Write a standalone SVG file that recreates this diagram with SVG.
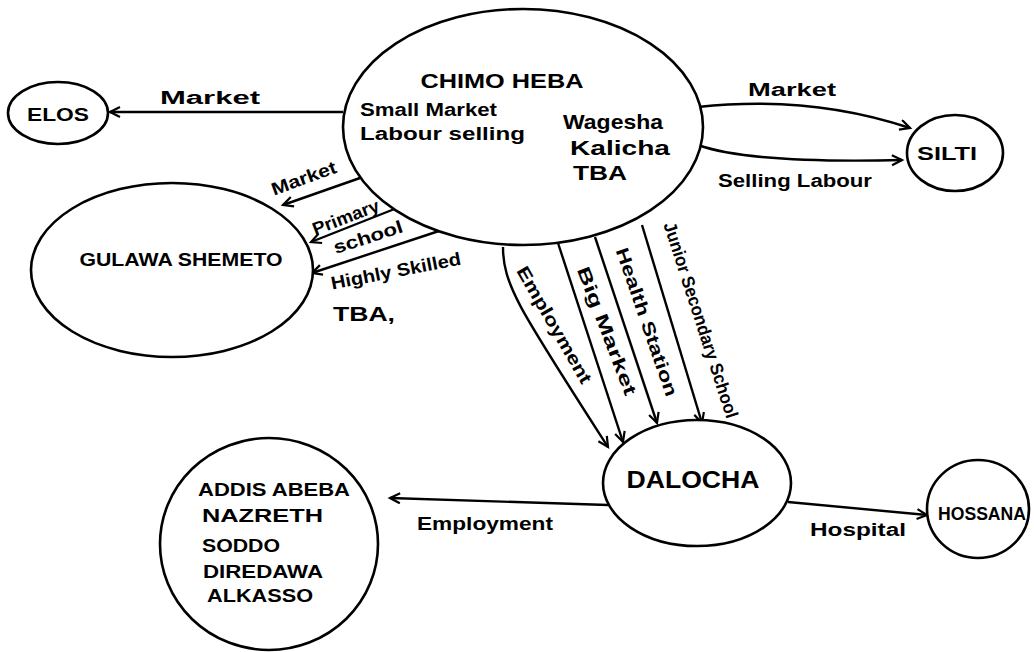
<svg xmlns="http://www.w3.org/2000/svg" width="1034" height="652" viewBox="0 0 1034 652">
<style>
.n{fill:#fff;stroke:#000;stroke-width:2.6}
.c{fill:none;stroke:#000;stroke-width:2.4;marker-end:url(#arr)}
text{font-family:"Liberation Sans","DejaVu Sans",sans-serif;fill:#000;font-size:18px;font-weight:bold}
.big{font-size:21px}
</style>
<defs>
<marker id="arr" markerUnits="userSpaceOnUse" markerWidth="14" markerHeight="14" refX="11" refY="6" orient="auto">
<path d="M1,1 L11,6 L1,11" fill="none" stroke="#000" stroke-width="2.2"/>
</marker>
</defs>
<rect width="1034" height="652" fill="#fff"/>
<g id="connectors">
<line class="c" x1="343" y1="112" x2="110" y2="112"/>
<line class="c" x1="360" y1="178" x2="283" y2="205"/>
<line class="c" x1="397" y1="208" x2="311" y2="242"/>
<line class="c" x1="442" y1="230" x2="312" y2="273"/>
<path class="c" d="M698,107 C780,98 850,108 910,128"/>
<path class="c" d="M698,145 C740,160 820,162 902,160"/>
<path class="c" d="M503,247 C503,285 520,310 608,447"/>
<line class="c" x1="558" y1="243" x2="623" y2="442"/>
<line class="c" x1="595" y1="237" x2="657" y2="423"/>
<line class="c" x1="642" y1="225" x2="702" y2="423"/>
<line class="c" x1="608" y1="505" x2="390" y2="498"/>
<line class="c" x1="788" y1="502" x2="927" y2="515"/>
<text x="210" y="104" text-anchor="middle" textLength="100" lengthAdjust="spacingAndGlyphs">Market</text>
<text transform="translate(306,184) rotate(-20)" text-anchor="middle" textLength="68" lengthAdjust="spacingAndGlyphs">Market</text>
<text transform="translate(348,223) rotate(-21)" text-anchor="middle" textLength="70" lengthAdjust="spacingAndGlyphs">Primary</text>
<text transform="translate(370,243) rotate(-18)" text-anchor="middle" textLength="72" lengthAdjust="spacingAndGlyphs">school</text>
<text transform="translate(397,277) rotate(-11)" text-anchor="middle" textLength="132" lengthAdjust="spacingAndGlyphs">Highly Skilled</text>
<text x="333" y="321" class="big" textLength="62" lengthAdjust="spacingAndGlyphs">TBA,</text>
<text x="792" y="96" text-anchor="middle" textLength="88" lengthAdjust="spacingAndGlyphs">Market</text>
<text x="795" y="187" text-anchor="middle" textLength="154" lengthAdjust="spacingAndGlyphs">Selling Labour</text>
<text transform="translate(549,328) rotate(60)" text-anchor="middle" textLength="132" lengthAdjust="spacingAndGlyphs">Employment</text>
<text transform="translate(601,333) rotate(69)" text-anchor="middle" textLength="136" lengthAdjust="spacingAndGlyphs">Big Market</text>
<text transform="translate(641,324) rotate(71)" text-anchor="middle" textLength="156" lengthAdjust="spacingAndGlyphs">Health Station</text>
<text transform="translate(695,322) rotate(72)" text-anchor="middle" textLength="205" lengthAdjust="spacingAndGlyphs">Junior Secondary School</text>
<text x="485" y="530" text-anchor="middle" textLength="136" lengthAdjust="spacingAndGlyphs">Employment</text>
<text x="858" y="536" text-anchor="middle" textLength="96" lengthAdjust="spacingAndGlyphs">Hospital</text>
</g>
<g id="chimo-heba">
<ellipse class="n" cx="523" cy="127" rx="180" ry="118"/>
<text x="502" y="88" class="big" text-anchor="middle" textLength="163" lengthAdjust="spacingAndGlyphs">CHIMO HEBA</text>
<text x="360" y="116" textLength="137" lengthAdjust="spacingAndGlyphs">Small Market</text>
<text x="360" y="140" textLength="165" lengthAdjust="spacingAndGlyphs">Labour selling</text>
<text x="563" y="129" class="big" textLength="100" lengthAdjust="spacingAndGlyphs">Wagesha</text>
<text x="570" y="155" class="big" textLength="100" lengthAdjust="spacingAndGlyphs">Kalicha</text>
<text x="573" y="180" class="big" textLength="54" lengthAdjust="spacingAndGlyphs">TBA</text>
</g>
<g id="elos">
<ellipse class="n" cx="58" cy="113" rx="50" ry="31"/>
<text x="58" y="121" text-anchor="middle" textLength="62" lengthAdjust="spacingAndGlyphs">ELOS</text>
</g>
<g id="gulawa-shemeto">
<ellipse class="n" cx="172" cy="270" rx="141" ry="87"/>
<text x="181" y="266" text-anchor="middle" textLength="203" lengthAdjust="spacingAndGlyphs">GULAWA SHEMETO</text>
</g>
<g id="silti">
<ellipse class="n" cx="955" cy="153" rx="48" ry="38"/>
<text x="947" y="160" text-anchor="middle" textLength="60" lengthAdjust="spacingAndGlyphs">SILTI</text>
</g>
<g id="dalocha">
<ellipse class="n" cx="697" cy="483" rx="94" ry="63"/>
<text x="693" y="488" text-anchor="middle" textLength="133" lengthAdjust="spacingAndGlyphs" style="font-size:24px">DALOCHA</text>
</g>
<g id="hossana">
<ellipse class="n" cx="978" cy="509" rx="51" ry="49"/>
<text x="982" y="520" text-anchor="middle" textLength="88" lengthAdjust="spacingAndGlyphs">HOSSANA</text>
</g>
<g id="cities">
<ellipse class="n" cx="269" cy="544" rx="109" ry="106"/>
<text x="198" y="496" textLength="152" lengthAdjust="spacingAndGlyphs">ADDIS ABEBA</text>
<text x="202" y="522" textLength="121" lengthAdjust="spacingAndGlyphs">NAZRETH</text>
<text x="202" y="552" textLength="78" lengthAdjust="spacingAndGlyphs">SODDO</text>
<text x="203" y="578" textLength="120" lengthAdjust="spacingAndGlyphs">DIREDAWA</text>
<text x="207" y="602" textLength="106" lengthAdjust="spacingAndGlyphs">ALKASSO</text>
</g>
</svg>
